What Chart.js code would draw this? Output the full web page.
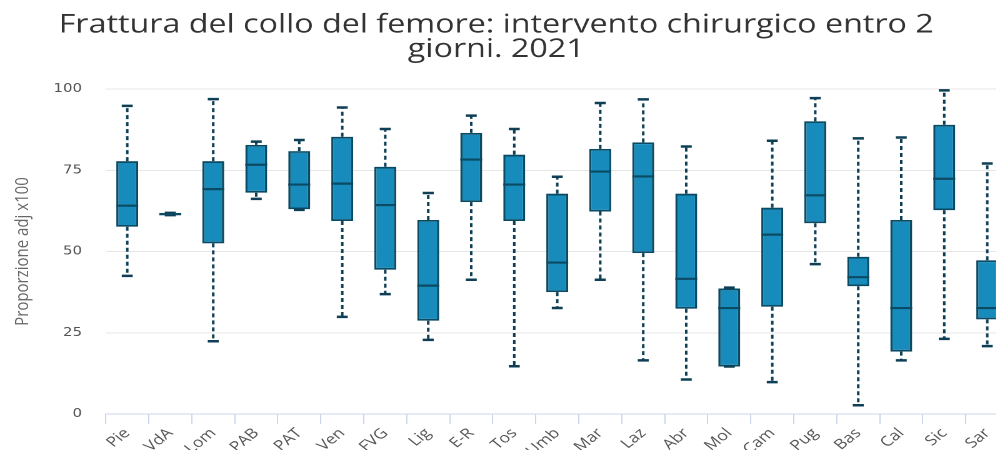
<!DOCTYPE html>
<html lang="it">
<head>
<meta charset="utf-8">
<title>Frattura del collo del femore: intervento chirurgico entro 2 giorni. 2021</title>
<script src="https://cdn.jsdelivr.net/npm/chart.js@4.4.1/dist/chart.umd.min.js"></script>
<style>
  html, body { margin: 0; padding: 0; background: #ffffff; overflow: hidden; }
  #wrap {
    width: 810px; height: 450px;
    transform: scaleX(1.25); transform-origin: 0 0;
  }
  canvas { display: block; }
</style>
</head>
<body>
<div id="wrap"><canvas id="chart" width="810" height="450"></canvas></div>
<script>
// Regioni / province autonome
const regions = ['Pie','VdA','Lom','PAB','PAT','Ven','FVG','Lig','E-R','Tos','Umb',
                 'Mar','Laz','Abr','Mol','Cam','Pug','Bas','Cal','Sic','Sar'];

// Distribuzione delle proporzioni aggiustate (x100) per regione
const whiskerLow  = [42.5, 61.2, 22.4, 66.2, 62.8, 29.9, 36.9, 22.8, 41.3, 14.7, 32.6,
                     41.3, 16.5, 10.6, 14.6,  9.8, 46.1,  2.7, 16.5, 23.1, 20.9];
const quartile1   = [57.6, 61.2, 52.5, 68.1, 63.0, 59.4, 44.4, 28.7, 65.2, 59.4, 37.5,
                     62.3, 49.5, 32.4, 14.6, 33.0, 58.7, 39.3, 19.2, 62.7, 29.1];
const medians     = [64.1, 61.5, 69.2, 76.7, 70.6, 70.9, 64.3, 39.5, 78.3, 70.6, 46.6,
                     74.6, 73.1, 41.6, 32.6, 55.2, 67.3, 42.1, 32.6, 72.4, 32.6];
const quartile3   = [77.8, 61.9, 77.8, 82.8, 80.9, 85.3, 76.1, 59.7, 86.5, 79.8, 67.8,
                     81.6, 83.6, 67.8, 38.6, 63.5, 90.1, 48.4, 59.7, 89.0, 47.3];
const whiskerHigh = [94.8, 61.9, 96.9, 83.8, 84.3, 94.3, 87.7, 68.0, 91.8, 87.7, 73.0,
                     95.7, 96.8, 82.3, 38.9, 84.1, 97.2, 84.8, 85.1, 99.6, 77.1];

const yTicks = [0, 25, 50, 75, 100];

const BOX_FILL = '#178cbc';
const BOX_LINE = '#0b4a63';
const WHISKER  = '#0e3f55';

// Baffi, cappucci e mediane disegnati sopra le scatole
const boxplotExtras = {
  id: 'boxplotExtras',
  afterLayout(chart) {
    // il titolo è centrato sulla parte visibile del grafico
    const t = chart.titleBlock;
    if (t) { t.right -= 13; t.width = t.right - t.left; }
  },
  afterDatasetsDraw(chart) {
    const ctx = chart.ctx;
    const y = chart.scales.y;
    const meta = chart.getDatasetMeta(0);
    meta.data.forEach((bar, i) => {
      const x = bar.x;
      const half = bar.width / 2;
      const cap = bar.width / 4;
      const yLow = y.getPixelForValue(whiskerLow[i]);
      const yQ1 = y.getPixelForValue(quartile1[i]);
      const yQ3 = y.getPixelForValue(quartile3[i]);
      const yHigh = y.getPixelForValue(whiskerHigh[i]);
      const yMed = y.getPixelForValue(medians[i]);
      ctx.save();
      ctx.strokeStyle = WHISKER;
      ctx.lineWidth = 2;
      ctx.setLineDash([4, 3]);
      ctx.beginPath();
      if (yHigh < yQ3 - 1) { ctx.moveTo(x, yQ3); ctx.lineTo(x, yHigh); }
      if (yLow > yQ1 + 1) { ctx.moveTo(x, yQ1); ctx.lineTo(x, yLow); }
      ctx.stroke();
      ctx.setLineDash([]);
      ctx.lineWidth = 2.5;
      ctx.beginPath();
      ctx.moveTo(x - cap, yHigh); ctx.lineTo(x + cap, yHigh);
      ctx.moveTo(x - cap, yLow);  ctx.lineTo(x + cap, yLow);
      ctx.stroke();
      ctx.strokeStyle = BOX_LINE;
      ctx.lineWidth = 2.2;
      ctx.beginPath();
      ctx.moveTo(x - half, yMed); ctx.lineTo(x + half, yMed);
      ctx.stroke();
      ctx.restore();
    });
  }
};

new Chart(document.getElementById('chart'), {
  type: 'bar',
  data: {
    labels: regions,
    datasets: [{
      label: 'Proporzione adj x100',
      data: quartile1.map((q, i) => [q, quartile3[i]]),
      backgroundColor: BOX_FILL,
      borderColor: BOX_LINE,
      borderWidth: 1.8,
      borderSkipped: false,
      barPercentage: 0.51,
      categoryPercentage: 1
    }]
  },
  options: {
    responsive: false,
    devicePixelRatio: 2,
    animation: false,
    layout: { padding: { left: 0, right: 3, top: 0, bottom: 0 } },
    plugins: {
      legend: { display: false },
      tooltip: { enabled: false },
      title: {
        display: true,
        text: ['Frattura del collo del femore: intervento chirurgico entro 2', 'giorni. 2021'],
        color: '#333333',
        font: { family: '"Open Sans", sans-serif', size: 25.8, weight: 'normal', lineHeight: 0.95 },
        padding: { top: 13, bottom: 27 }
      }
    },
    scales: {
      x: {
        grid: { display: true, drawOnChartArea: false, drawTicks: true, tickLength: 10, color: '#ccd6eb', offset: true },
        border: { display: true, color: '#ccd6eb', width: 1 },
        ticks: {
          color: '#555555',
          font: { family: '"Open Sans", sans-serif', size: 14 },
          minRotation: 45, maxRotation: 45, autoSkip: false, padding: 1
        },
        afterFit(scale) { scale.height = 36; }
      },
      y: {
        min: 0, max: 100,
        afterBuildTicks(scale) { scale.ticks = yTicks.map(v => ({ value: v })); },
        afterFit(scale) { scale.width = 84.6; },
        grid: { color: '#e6e6e6', drawTicks: false },
        border: { display: false },
        ticks: {
          color: '#555555',
          font: { family: '"DejaVu Sans", sans-serif', size: 12 },
          padding: 19
        },
        title: {
          display: true,
          text: 'Proporzione adj x100',
          color: '#666666',
          font: { family: '"Open Sans", sans-serif', size: 15 },
          padding: { top: 9, bottom: 14 }
        }
      }
    }
  },
  plugins: [boxplotExtras]
});
</script>
</body>
</html>
